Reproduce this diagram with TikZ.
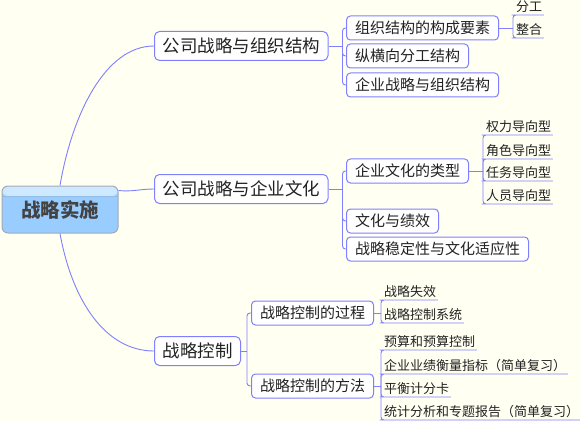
\documentclass[tikz,border=0pt]{standalone}
\usepackage{fontspec}
\usepackage{xcolor}
\usepackage{tikz}
\usetikzlibrary{calc,positioning}
\newfontfamily\cjk{Noto Sans CJK SC}
\definecolor{paper}{HTML}{FFFFF2}
\definecolor{linkblue}{HTML}{8080FF}
\definecolor{rootblue}{HTML}{99CCFF}
\definecolor{rootlight}{HTML}{CDE9FF}
\definecolor{rootedge}{HTML}{A2AAB8}
\definecolor{inkgray}{HTML}{222222}
\tikzset{
  link/.style={linkblue,line width=0.9pt},
  rootbox/.style={draw=rootedge,line width=1pt,fill=rootblue,rounded corners=6pt,minimum width=116pt,minimum height=47pt,
    font=\cjk\bfseries\fontsize{19.5}{22}\selectfont,text=inkgray!85,
    path picture={\fill[rootlight] (path picture bounding box.north west) rectangle ([yshift=-10pt]path picture bounding box.north east);
      \draw[rootblue!80!gray] ([yshift=-10pt]path picture bounding box.north west) -- ([yshift=-10pt]path picture bounding box.north east);}},
  topicbox/.style={draw=linkblue,line width=1pt,fill=white,rounded corners=5pt,anchor=west,inner xsep=8pt,minimum height=29pt,
    font=\cjk\fontsize{17.5}{20}\selectfont,text=inkgray},
  subbox/.style={draw=linkblue,line width=1pt,fill=white,rounded corners=4pt,anchor=west,inner xsep=8.5pt,minimum height=24pt,
    font=\cjk\fontsize{15}{17}\selectfont,text=inkgray},
  leaf/.style={anchor=south west,xshift=1.5pt,inner xsep=1.5pt,inner ysep=2pt,font=\cjk\fontsize{13}{15}\selectfont,text=inkgray}
}
\begin{document}
\begin{tikzpicture}[x=1pt,y=-1pt]
  \useasboundingbox[fill=paper] (0,0) rectangle (580,422);
  \node[rootbox] (root) at (60,209.5) {战略实施};
  \node[topicbox] (org) at (154,46) {公司战略与组织结构};
  \node[topicbox] (cul) at (154,189) {公司战略与企业文化};
  \node[topicbox] (ctl) at (154,351) {战略控制};
  \draw[link] (root.north) .. controls (72,115) and (105,46) .. (org.west);
  \draw[link] (root.18) .. controls (132,192) and (140,189) .. (cul.west);
  \draw[link] (root.south) .. controls (72,300) and (105,351) .. (ctl.west);

  \node[subbox] (orgA) at (346,28) {组织结构的构成要素};
  \node[subbox] (orgB) at (346,56) {纵横向分工结构};
  \node[subbox] (orgC) at (346,85) {企业战略与组织结构};
  \node[subbox] (culA) at (346,171) {企业文化的类型};
  \node[subbox] (culB) at (346,221) {文化与绩效};
  \node[subbox] (culC) at (346,249) {战略稳定性与文化适应性};
  \node[subbox] (ctlA) at (251,313) {战略控制的过程};
  \node[subbox] (ctlB) at (251,386) {战略控制的方法};
  \coordinate (orgJ) at ($(org.east)+(14,0)$);
  \coordinate (culJ) at ($(cul.east)+(14,0)$);
  \coordinate (ctlJ) at ($(ctl.east)+(6,0)$);
  \draw[link] (org.east) -- (orgJ);
  \draw[link] (cul.east) -- (culJ);
  \draw[link] (ctl.east) -- (ctlJ);
  \foreach \n in {orgA,orgB,orgC}
    \draw[link,rounded corners=3pt] (orgJ) |- (\n.west);
  \foreach \n in {culA,culB,culC}
    \draw[link,rounded corners=3pt] (culJ) |- (\n.west);
  \foreach \n in {ctlA,ctlB}
    \draw[link,rounded corners=3pt] (ctlJ) |- (\n.west);

  \coordinate (orgAJ) at ($(orgA.east)+(14,0)$);
  \coordinate (culAJ) at ($(culA.east)+(14,0)$);
  \coordinate (ctlAJ) at ($(ctlA.east)+(7,0)$);
  \coordinate (ctlBJ) at ($(ctlB.east)+(7,0)$);
  \node[leaf] (fengong) at (orgAJ |- 0,15) {分工};
  \node[leaf] (zhenghe) at (orgAJ |- 0,38) {整合};
  \node[leaf] (quanli) at (culAJ |- 0,135) {权力导向型};
  \node[leaf] (juese) at (culAJ |- 0,159) {角色导向型};
  \node[leaf] (renwu) at (culAJ |- 0,181) {任务导向型};
  \node[leaf] (renyuan) at (culAJ |- 0,204) {人员导向型};
  \node[leaf] (shixiao) at (ctlAJ |- 0,300) {战略失效};
  \node[leaf] (xitong) at (ctlAJ |- 0,323) {战略控制系统};
  \node[leaf] (yusuan) at (ctlBJ |- 0,350) {预算和预算控制};
  \node[leaf] (yeji) at (ctlBJ |- 0,374) {企业业绩衡量指标（简单复习）};
  \node[leaf] (pingheng) at (ctlBJ |- 0,397) {平衡计分卡};
  \node[leaf] (tongji) at (ctlBJ |- 0,420) {统计分析和专题报告（简单复习）};
  \draw[link] (orgA.east) -- (orgAJ);
  \draw[link] (culA.east) -- (culAJ);
  \draw[link] (ctlA.east) -- (ctlAJ);
  \draw[link] (ctlB.east) -- (ctlBJ);
  \foreach \n in {fengong,zhenghe}
    \draw[link,rounded corners=3pt] (orgAJ) |- (\n.south west) -- (\n.south east);
  \foreach \n in {quanli,juese,renwu,renyuan}
    \draw[link,rounded corners=3pt] (culAJ) |- (\n.south west) -- (\n.south east);
  \foreach \n in {shixiao,xitong}
    \draw[link,rounded corners=3pt] (ctlAJ) |- (\n.south west) -- (\n.south east);
  \foreach \n in {yusuan,yeji,pingheng,tongji}
    \draw[link,rounded corners=3pt] (ctlBJ) |- (\n.south west) -- (\n.south east);
\end{tikzpicture}
\end{document}
